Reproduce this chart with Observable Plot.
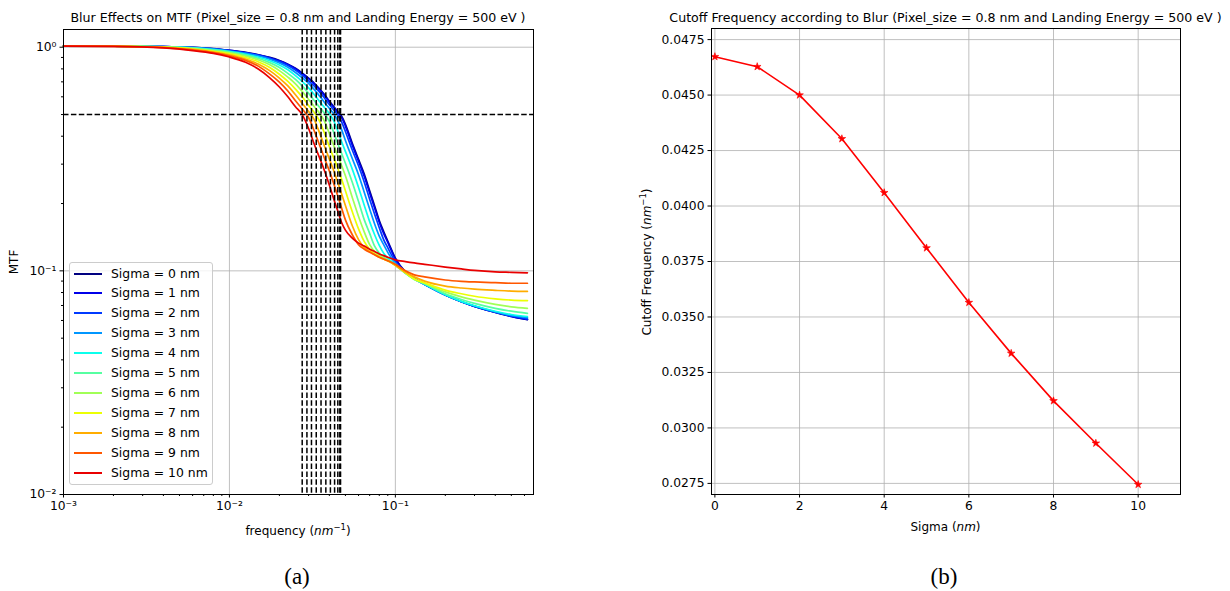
<!DOCTYPE html>
<html><head><meta charset="utf-8">
<script src="https://cdn.jsdelivr.net/npm/d3@7"></script>
<script src="https://cdn.jsdelivr.net/npm/@observablehq/plot@0.6"></script>
<style>
body{margin:0;background:#fff;font-family:"DejaVu Sans",sans-serif;color:#000;}
#wrap{position:relative;width:1230px;height:591px;overflow:hidden;background:#fff;}
.abs{position:absolute;white-space:nowrap;}
.t12{font-size:12px;line-height:14px;}
.ttl{font-size:12.6px;line-height:15px;}
.cap{font-family:"Liberation Serif","Times New Roman",serif;font-size:23px;line-height:26px;}
.rot{transform:translate(-50%,-50%) rotate(-90deg);}
.ctr{transform:translate(-50%,-50%);}
#legend{position:absolute;left:69px;top:262px;width:144px;height:223px;border:1px solid #cccccc;border-radius:3px;background:rgba(255,255,255,0.8);box-sizing:border-box;}
.lrow{position:absolute;left:0;height:16px;font-size:12.4px;line-height:16px;}
.lrow span.sw{position:absolute;left:4px;top:7px;width:28px;height:2px;}
.lrow span.tx{position:absolute;left:41px;top:0;white-space:nowrap;}
svg{position:absolute;}
</style></head>
<body><div id="wrap"></div>
<script>
// ---------- data ----------
const freq = [0.001, 0.002, 0.004, 0.006, 0.008, 0.01, 0.0125, 0.015, 0.0175, 0.02,
  0.0225, 0.025, 0.0275, 0.03, 0.0325, 0.035, 0.0375, 0.04, 0.0425, 0.045,
  0.0475, 0.05, 0.055, 0.06, 0.065, 0.07, 0.075, 0.08, 0.085, 0.09,
  0.1, 0.115, 0.13, 0.15, 0.2, 0.25, 0.3, 0.4, 0.5, 0.625];
const sigmas = [0, 1, 2, 3, 4, 5, 6, 7, 8, 9, 10];
const mtfSigma0 = [1.012, 1.012, 1.007, 0.998, 0.985, 0.968, 0.948, 0.925, 0.900, 0.872,
  0.840, 0.805, 0.765, 0.727, 0.690, 0.650, 0.612, 0.574, 0.543, 0.515,
  0.490, 0.452, 0.372, 0.315, 0.270, 0.228, 0.195, 0.168, 0.150, 0.136,
  0.114, 0.099, 0.0925, 0.087, 0.078, 0.0728, 0.0694, 0.0652, 0.0625, 0.0605];
const mtfSigma1 = [1.012, 1.012, 1.007, 0.997, 0.984, 0.967, 0.946, 0.923, 0.897, 0.869,
  0.836, 0.801, 0.761, 0.723, 0.686, 0.645, 0.607, 0.569, 0.539, 0.511,
  0.484, 0.444, 0.365, 0.309, 0.264, 0.223, 0.191, 0.165, 0.147, 0.134,
  0.113, 0.099, 0.0925, 0.087, 0.078, 0.0728, 0.0694, 0.0653, 0.0626, 0.0606];
const mtfSigma2 = [1.012, 1.012, 1.0065, 0.9966, 0.9825, 0.965, 0.944, 0.919, 0.893, 0.862,
  0.828, 0.790, 0.749, 0.707, 0.670, 0.630, 0.591, 0.554, 0.525, 0.498,
  0.462, 0.420, 0.347, 0.295, 0.249, 0.209, 0.179, 0.156, 0.138, 0.127,
  0.110, 0.0985, 0.0923, 0.087, 0.078, 0.0728, 0.0694, 0.0654, 0.0628, 0.061];
const mtfSigma3 = [1.012, 1.012, 1.006, 0.995, 0.980, 0.961, 0.939, 0.913, 0.883, 0.850,
  0.813, 0.771, 0.729, 0.689, 0.646, 0.604, 0.565, 0.533, 0.504, 0.469,
  0.427, 0.383, 0.318, 0.269, 0.224, 0.189, 0.162, 0.143, 0.131, 0.121,
  0.108, 0.098, 0.0922, 0.087, 0.0781, 0.0729, 0.0696, 0.0656, 0.0632, 0.0618];
const mtfSigma4 = [1.012, 1.012, 1.0045, 0.993, 0.975, 0.956, 0.930, 0.902, 0.870, 0.833,
  0.793, 0.746, 0.702, 0.658, 0.613, 0.571, 0.536, 0.505, 0.469, 0.422,
  0.377, 0.342, 0.285, 0.236, 0.196, 0.166, 0.145, 0.130, 0.120, 0.114,
  0.107, 0.0978, 0.092, 0.0872, 0.0782, 0.073, 0.0698, 0.066, 0.0638, 0.0625];
const mtfSigma5 = [1.012, 1.011, 1.0035, 0.990, 0.970, 0.950, 0.922, 0.890, 0.853, 0.812,
  0.764, 0.718, 0.670, 0.623, 0.576, 0.538, 0.505, 0.466, 0.416, 0.370,
  0.334, 0.303, 0.249, 0.204, 0.169, 0.147, 0.129, 0.120, 0.115, 0.112,
  0.106, 0.0975, 0.0915, 0.0875, 0.079, 0.0745, 0.0715, 0.068, 0.066, 0.0645];
const mtfSigma6 = [1.012, 1.011, 1.002, 0.986, 0.964, 0.943, 0.912, 0.876, 0.834, 0.786,
  0.735, 0.686, 0.633, 0.584, 0.542, 0.506, 0.465, 0.411, 0.364, 0.327,
  0.295, 0.266, 0.213, 0.175, 0.149, 0.131, 0.122, 0.117, 0.114, 0.111,
  0.106, 0.098, 0.0918, 0.088, 0.0805, 0.0765, 0.074, 0.0708, 0.069, 0.068];
const mtfSigma7 = [1.012, 1.0105, 1.0, 0.982, 0.958, 0.935, 0.900, 0.859, 0.812, 0.757,
  0.703, 0.650, 0.599, 0.549, 0.510, 0.466, 0.410, 0.360, 0.320, 0.287,
  0.256, 0.228, 0.184, 0.154, 0.135, 0.125, 0.119, 0.116, 0.113, 0.111,
  0.106, 0.098, 0.092, 0.0885, 0.082, 0.079, 0.077, 0.075, 0.074, 0.0736];
const mtfSigma8 = [1.012, 1.010, 0.998, 0.977, 0.952, 0.925, 0.886, 0.840, 0.786, 0.728,
  0.671, 0.613, 0.560, 0.516, 0.473, 0.412, 0.359, 0.316, 0.281, 0.248,
  0.220, 0.196, 0.159, 0.138, 0.127, 0.122, 0.118, 0.115, 0.113, 0.111,
  0.106, 0.0985, 0.094, 0.090, 0.0855, 0.0838, 0.0828, 0.0818, 0.0812, 0.081];
const mtfSigma9 = [1.012, 1.0095, 0.996, 0.972, 0.946, 0.915, 0.873, 0.821, 0.758, 0.698,
  0.637, 0.576, 0.529, 0.485, 0.421, 0.364, 0.317, 0.280, 0.246, 0.216,
  0.190, 0.169, 0.145, 0.131, 0.125, 0.121, 0.118, 0.115, 0.113, 0.111,
  0.107, 0.100, 0.096, 0.094, 0.091, 0.0898, 0.0892, 0.0885, 0.088, 0.088];
const mtfSigma10 = [1.012, 1.009, 0.993, 0.966, 0.938, 0.904, 0.856, 0.797, 0.730, 0.664,
  0.600, 0.542, 0.498, 0.433, 0.367, 0.319, 0.279, 0.242, 0.210, 0.185,
  0.164, 0.152, 0.140, 0.133, 0.129, 0.125, 0.122, 0.119, 0.117, 0.115,
  0.112, 0.110, 0.1085, 0.107, 0.104, 0.102, 0.1005, 0.099, 0.0985, 0.098];
const cutoffFreq = [0.04673, 0.04628, 0.0450, 0.04303, 0.0406, 0.03811, 0.03565, 0.03336, 0.03122, 0.02931, 0.02745];
const mtfThreshold = [0.5];

const xMajorTicks = [0.001, 0.01, 0.1];
const yMajorTicks = [0.01, 0.1, 1];
const sigmaTicks = [0, 2, 4, 6, 8, 10];
const cutoffTicks = [0.0275, 0.0300, 0.0325, 0.0350, 0.0375, 0.0400, 0.0425, 0.0450, 0.0475];

// styles
const sigmaColors = ["#000080", "#0000e9", "#003aff", "#0097ff", "#0bffec", "#56ffa1", "#a1ff56", "#ebff04", "#ffad00", "#ff5700", "#e90000"];

// ---------- build ----------
const series = [mtfSigma0, mtfSigma1, mtfSigma2, mtfSigma3, mtfSigma4, mtfSigma5, mtfSigma6, mtfSigma7, mtfSigma8, mtfSigma9, mtfSigma10];
const mtfRows = [];
series.forEach((vals, k) => vals.forEach((m, i) => mtfRows.push({f: freq[i], m, sigma: sigmas[k]})));
const cutoffRows = sigmas.map((s, i) => ({sigma: s, fc: cutoffFreq[i]}));

function minorTicks(lo, hi) {
  const out = [];
  for (let e = Math.floor(Math.log10(lo)); e <= Math.ceil(Math.log10(hi)); e++) {
    for (let k = 2; k <= 9; k++) { const v = k * Math.pow(10, e); if (v > lo && v < hi) out.push(v); }
  }
  return out;
}
const supMap = {"-": "\u207b", "0": "\u2070", "1": "\u00b9", "2": "\u00b2", "3": "\u00b3", "4": "\u2074", "5": "\u2075", "6": "\u2076", "7": "\u2077", "8": "\u2078", "9": "\u2079"};
const pow10 = v => "10" + String(Math.round(Math.log10(v))).split("").map(c => supMap[c]).join("");

const xDom = [0.001, 0.68], yDom = [0.01, 1.2];
const gridStyle = {stroke: "#b0b0b0", strokeOpacity: 1, strokeWidth: 0.8};
const baseStyle = {fontFamily: "DejaVu Sans", fontSize: "12.3px", color: "#000", background: "transparent", overflow: "visible"};

const left = Plot.plot({
  width: 560, height: 560,
  marginLeft: 63, marginRight: 27, marginTop: 29, marginBottom: 66,
  style: baseStyle,
  x: {type: "log", domain: xDom},
  y: {type: "log", domain: yDom},
  color: {type: "ordinal", domain: sigmas, range: sigmaColors},
  marks: [
    Plot.gridX(xMajorTicks, gridStyle),
    Plot.gridY(yMajorTicks, gridStyle),
    Plot.line(mtfRows, {x: "f", y: "m", z: "sigma", stroke: "sigma", strokeWidth: 1.7, curve: "monotone-x"}),
    Plot.ruleX(cutoffFreq, {stroke: "#000", strokeWidth: 1.5, strokeDasharray: "5.5,2.4"}),
    Plot.ruleY(mtfThreshold, {stroke: "#000", strokeWidth: 1.5, strokeDasharray: "5.5,2.4"}),
    Plot.axisX(xMajorTicks, {tickSize: 3.5, tickPadding: 3.5, tickFormat: pow10, label: null, stroke: "#000"}),
    Plot.axisX(minorTicks(xDom[0], xDom[1]), {tickSize: 2, tickFormat: () => "", label: null, stroke: "#000"}),
    Plot.axisY(yMajorTicks, {tickSize: 3.5, tickPadding: 3.5, tickFormat: pow10, label: null, stroke: "#000"}),
    Plot.axisY(minorTicks(yDom[0], yDom[1]), {tickSize: 2, tickFormat: () => "", label: null, stroke: "#000"}),
    Plot.frame({stroke: "#000", strokeWidth: 1})
  ]
});
left.style.left = "0px"; left.style.top = "0px";

const right = Plot.plot({
  width: 610, height: 560,
  marginLeft: 91, marginRight: 50, marginTop: 28, marginBottom: 66,
  style: baseStyle,
  x: {domain: [-0.08, 11]},
  y: {domain: [0.0270, 0.0480]},
  marks: [
    Plot.gridX(sigmaTicks, gridStyle),
    Plot.gridY(cutoffTicks, gridStyle),
    Plot.line(cutoffRows, {x: "sigma", y: "fc", stroke: "#ff0000", strokeWidth: 1.6}),
    Plot.dot(cutoffRows, {x: "sigma", y: "fc", symbol: "star", r: 2.4, fill: "#ff0000", stroke: "#ff0000", strokeWidth: 0.6}),
    Plot.axisX(sigmaTicks, {tickSize: 3.5, tickPadding: 3.5, tickFormat: d3.format("d"), label: null, stroke: "#000"}),
    Plot.axisY(cutoffTicks, {tickSize: 3.5, tickPadding: 3.5, tickFormat: d3.format(".4f"), label: null, stroke: "#000"}),
    Plot.frame({stroke: "#000", strokeWidth: 1})
  ]
});
right.style.left = "620px"; right.style.top = "0px";

const wrap = document.getElementById("wrap");
wrap.appendChild(left);
wrap.appendChild(right);

function addText(html, cls, x, y) {
  const d = document.createElement("div");
  d.className = "abs " + cls;
  d.style.left = x + "px"; d.style.top = y + "px";
  d.innerHTML = html;
  wrap.appendChild(d);
  return d;
}
addText("Blur Effects on MTF (Pixel_size = 0.8 nm and Landing Energy = 500 eV )", "ttl ctr", 298, 17);
addText("Cutoff Frequency according to Blur (Pixel_size = 0.8 nm and Landing Energy = 500 eV )", "ttl ctr", 945.5, 17);
addText("MTF", "t12 rot", 14, 262);
addText("frequency (<i>nm</i><sup style='font-size:8.5px'>\u22121</sup>)", "t12 ctr", 298, 529);
addText("Cutoff Frequency (<i>nm</i><sup style='font-size:8.5px'>\u22121</sup>)", "t12 rot", 645, 262);
addText("Sigma (<i>nm</i>)", "t12 ctr", 945.5, 527);
addText("(a)", "cap ctr", 297, 577);
addText("(b)", "cap ctr", 944, 577);

// legend
const leg = document.createElement("div");
leg.id = "legend";
sigmas.forEach((s, i) => {
  const r = document.createElement("div");
  r.className = "lrow";
  r.style.top = (2.5 + 19.9 * i) + "px";
  r.innerHTML = `<span class="sw" style="background:${sigmaColors[i]}"></span><span class="tx">Sigma = ${s} nm</span>`;
  leg.appendChild(r);
});
wrap.appendChild(leg);
</script>
</body></html>
